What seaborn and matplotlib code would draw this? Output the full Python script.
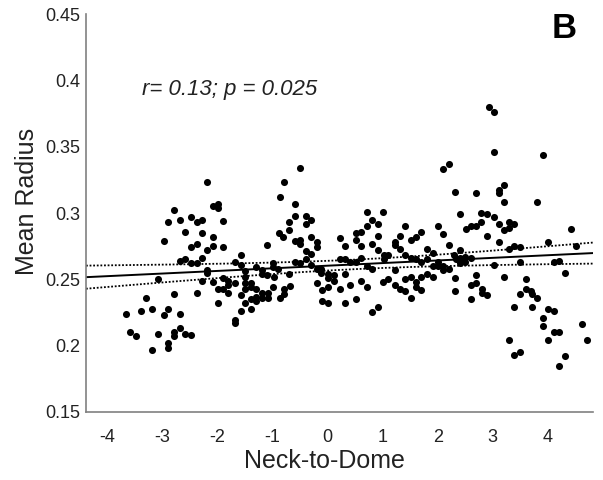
import numpy as np
import pandas as pd
import matplotlib
matplotlib.use("Agg")
import matplotlib.pyplot as plt
import seaborn as sns

# ---- data (Neck-to-Dome, Mean Radius) ----
x_a = [-2.79, -2.90, -2.69, -2.60, -2.98, -2.69, -2.60, -3.08, -2.79, -3.30, -3.67, -3.39, -3.19,
       -2.90, -2.98, -2.69, -3.59, -3.48, -3.08, -2.79, -2.79, -2.69, -2.60, -2.90, -2.90, -3.19]
y_a = [0.302, 0.293, 0.295, 0.286, 0.279, 0.264, 0.265, 0.250, 0.239, 0.236, 0.224, 0.226, 0.228,
       0.228, 0.223, 0.224, 0.210, 0.207, 0.209, 0.210, 0.207, 0.213, 0.209, 0.202, 0.198, 0.197]

x_b = [-2.19, -2.09, -1.99, -1.99, -2.49, -2.38, -2.28, -1.90, -2.28, -2.09, -2.38, -2.49, -2.19,
       -2.09, -1.90, -2.28, -2.38, -2.49, -2.19, -2.19, -1.69, -1.58, -1.58, -1.50, -1.50, -1.30,
       -1.10, -0.87, -0.79, -0.88, -0.81, -0.70, -0.70, -1.19, -1.19, -0.99, -0.99, -1.10, -0.97,
       -0.90, -0.70, -2.28, -2.09, -1.90, -1.81, -1.81, -1.69, -1.99, -1.90, -1.81, -2.38, -1.50,
       -1.39, -1.39, -1.50, -1.30, -0.99, -1.08, -0.79, -0.79, -1.58, -1.39, -1.30, -1.19, -1.19,
       -1.30, -1.08, -0.87, -1.99, -1.50, -1.58, -1.39, -1.69, -1.69, -2.49]
y_b = [0.323, 0.305, 0.307, 0.304, 0.297, 0.293, 0.295, 0.294, 0.285, 0.282, 0.277, 0.274, 0.272,
       0.275, 0.274, 0.266, 0.262, 0.262, 0.257, 0.255, 0.263, 0.268, 0.261, 0.256, 0.252, 0.259,
       0.276, 0.312, 0.323, 0.285, 0.282, 0.293, 0.287, 0.257, 0.254, 0.262, 0.259, 0.253, 0.252,
       0.258, 0.254, 0.249, 0.248, 0.251, 0.249, 0.246, 0.247, 0.243, 0.243, 0.240, 0.240, 0.247,
       0.247, 0.244, 0.243, 0.243, 0.244, 0.240, 0.243, 0.239, 0.238, 0.235, 0.237, 0.240, 0.236,
       0.234, 0.236, 0.236, 0.232, 0.232, 0.226, 0.228, 0.219, 0.217, 0.208]

x_c = [-0.50, -0.59, -0.59, -0.40, -0.30, -0.40, -0.59, -0.50, -0.50, -0.30, -0.19, -0.19, -0.40,
       -0.30, -0.59, -0.50, -0.40, -0.30, -0.69, -0.19, -0.12, -0.12, 0.01, 0.01, 0.11, 0.11,
       -0.19, -0.10, 0.01, 0.22, -0.10, 0.01, 0.31, 0.51, 0.22, 0.31, 0.22, 0.31, 0.40, 0.52,
       0.31, 0.40, 0.60, 0.71, 0.51, 0.51, 0.60, 0.60, 0.71, 0.71, 0.81, 0.91, 1.00, 0.81, 0.91,
       0.91, 1.02, 1.09, 1.02, 0.71, 0.81, 0.60, 1.00, 1.09, 0.81, 0.91]
y_c = [0.334, 0.307, 0.298, 0.298, 0.295, 0.292, 0.279, 0.280, 0.277, 0.282, 0.278, 0.274, 0.271,
       0.269, 0.263, 0.262, 0.265, 0.261, 0.245, 0.258, 0.258, 0.255, 0.254, 0.251, 0.253, 0.249,
       0.247, 0.242, 0.244, 0.243, 0.234, 0.232, 0.232, 0.235, 0.281, 0.275, 0.265, 0.265, 0.263,
       0.263, 0.254, 0.246, 0.249, 0.244, 0.280, 0.285, 0.286, 0.275, 0.301, 0.290, 0.295, 0.292,
       0.301, 0.277, 0.283, 0.272, 0.268, 0.268, 0.265, 0.260, 0.258, 0.266, 0.248, 0.250, 0.225,
       0.229]

x_d = [2.09, 2.21, 2.32, 2.70, 2.40, 2.79, 2.89, 2.52, 2.61, 2.70, 2.79, 2.89, 2.00, 2.09, 1.41,
       1.70, 1.61, 1.51, 1.31, 1.22, 1.22, 1.31, 1.41, 1.52, 1.61, 1.70, 1.81, 1.91, 1.81, 1.91,
       2.00, 2.00, 2.09, 2.09, 2.21, 2.21, 2.30, 2.40, 2.33, 2.41, 2.41, 2.50, 2.50, 2.61, 1.22,
       1.22, 1.31, 1.41, 1.41, 1.52, 1.52, 1.61, 1.61, 1.70, 1.70, 1.81, 1.91, 2.32, 2.32, 2.61,
       2.61, 2.70, 2.70, 2.80, 2.80, 2.89]
y_d = [0.333, 0.337, 0.316, 0.315, 0.299, 0.300, 0.299, 0.288, 0.290, 0.290, 0.293, 0.283, 0.290,
       0.284, 0.290, 0.286, 0.282, 0.280, 0.283, 0.278, 0.276, 0.273, 0.268, 0.266, 0.265, 0.263,
       0.273, 0.270, 0.265, 0.260, 0.263, 0.260, 0.260, 0.257, 0.276, 0.258, 0.268, 0.272, 0.265,
       0.266, 0.262, 0.267, 0.263, 0.266, 0.257, 0.246, 0.243, 0.250, 0.241, 0.252, 0.236, 0.248,
       0.244, 0.252, 0.242, 0.254, 0.252, 0.251, 0.241, 0.235, 0.246, 0.247, 0.253, 0.243, 0.240,
       0.238]

x_e = [2.94, 3.02, 3.02, 3.91, 3.21, 3.11, 3.11, 3.21, 3.80, 3.02, 3.11, 3.21, 3.30, 3.30, 3.39,
       3.11, 3.30, 3.39, 3.50, 4.01, 4.42, 4.51, 3.02, 3.50, 4.11, 4.20, 4.31, 3.21, 3.60, 3.60,
       3.70, 3.71, 3.80, 3.50, 3.39, 3.71, 4.01, 4.11, 3.91, 3.91, 4.11, 4.20, 4.62, 4.71, 4.01,
       3.30, 3.39, 3.50, 4.31, 4.20]
y_e = [0.380, 0.376, 0.346, 0.344, 0.321, 0.317, 0.315, 0.308, 0.308, 0.297, 0.292, 0.287, 0.293,
       0.289, 0.292, 0.278, 0.273, 0.275, 0.274, 0.278, 0.288, 0.275, 0.261, 0.263, 0.263, 0.264,
       0.255, 0.252, 0.250, 0.243, 0.241, 0.239, 0.236, 0.239, 0.229, 0.229, 0.228, 0.226, 0.221,
       0.215, 0.210, 0.210, 0.216, 0.204, 0.204, 0.204, 0.193, 0.195, 0.192, 0.185]

x_ticks = [-4, -3, -2, -1, 0, 1, 2, 3, 4]
y_ticks = [0.15, 0.2, 0.25, 0.3, 0.35, 0.4, 0.45]
y_tick_labels = ["0.15", "0.2", "0.25", "0.3", "0.35", "0.4", "0.45"]
annotation = "r= 0.13; p = 0.025"
panel_letter = "B"

neck = np.array(x_a + x_b + x_c + x_d + x_e)
radius = np.array(y_a + y_b + y_c + y_d + y_e)
df = pd.DataFrame({"Neck-to-Dome": neck, "Mean Radius": radius})

sns.set_theme(style="white")
plt.rcParams['font.family'] = ['Liberation Sans', 'DejaVu Sans']

fig = plt.figure(figsize=(6.03, 4.8), dpi=100)
ax = fig.add_axes([0.1426, 0.1417, 0.8408, 0.8291])
ax.set_xlim(-4.39, 4.82)
ax.set_ylim(0.15, 0.45)

sns.regplot(data=df, x="Neck-to-Dome", y="Mean Radius", ax=ax, ci=None, truncate=False,
            scatter_kws=dict(s=26, color="black", linewidths=0, alpha=1),
            line_kws=dict(color="black", lw=1.4))

# analytic 95% confidence band of the fit, drawn as dotted lines
n = len(neck)
slope, intercept = np.polyfit(neck, radius, 1)
xs = np.linspace(-4.39, 4.82, 300)
resid = radius - (slope * neck + intercept)
s_err = np.sqrt(np.sum(resid ** 2) / (n - 2))
sxx = np.sum((neck - neck.mean()) ** 2)
half = 1.968 * s_err * np.sqrt(1.0 / n + (xs - neck.mean()) ** 2 / sxx)
fit = slope * xs + intercept
ax.plot(xs, fit + half, color="black", lw=1.3, ls=(0, (1, 1)))
ax.plot(xs, fit - half, color="black", lw=1.3, ls=(0, (1, 1)))

ax.set_xticks(x_ticks)
ax.set_xticklabels([str(t) for t in x_ticks])
ax.set_yticks(y_ticks)
ax.set_yticklabels(y_tick_labels)
ax.tick_params(axis="both", direction="in", length=4, width=1, color="#808080",
               labelsize=13, labelcolor="#222222")
ax.tick_params(axis="x", pad=12)
ax.tick_params(axis="y", pad=4)

for side in ["top", "right"]:
    ax.spines[side].set_visible(False)
for side in ["left", "bottom"]:
    ax.spines[side].set_color("#808080")
    ax.spines[side].set_linewidth(1.2)

ax.set_xlabel("Neck-to-Dome", fontsize=18, color="#222222")
ax.set_ylabel("Mean Radius", fontsize=18, color="#222222")
ax.xaxis.set_label_coords(0.47, -0.093)
ax.yaxis.set_label_coords(-0.093, 0.53)

ax.text(-3.37, 0.389, annotation, fontsize=16, fontstyle="italic", color="#222222",
        ha="left", va="baseline")
ax.text(0.968, 1.005, panel_letter, transform=ax.transAxes, fontsize=25, fontweight="bold",
        color="black", ha="right", va="top")

fig.savefig("out.png", dpi=100, facecolor="white")
